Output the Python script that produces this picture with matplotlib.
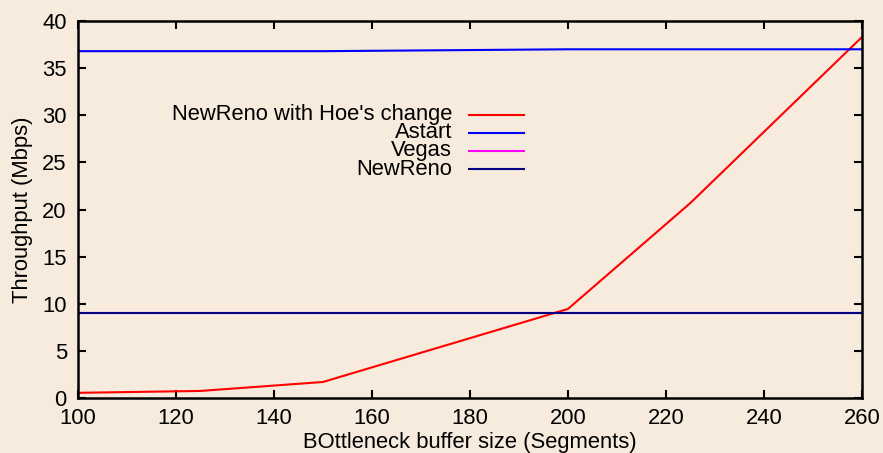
import numpy as np
import matplotlib
matplotlib.use('Agg')
import matplotlib.pyplot as plt

plt.rcParams['font.family'] = ['Liberation Sans', 'DejaVu Sans']

# buffer sizes (segments)
hoe_x = [100, 125, 150, 200, 225, 260]
hoe_y = [0.55, 0.75, 1.7, 9.45, 20.7, 38.3]

astart_x = [100, 150, 200, 260]
astart_y = [36.8, 36.8, 37.0, 37.0]

vegas_x = [100, 260]
vegas_y = [9.05, 9.05]

newreno_x = [100, 260]
newreno_y = [9.05, 9.05]

names = ["NewReno with Hoe's change", 'Astart', 'Vegas', 'NewReno']
colors = ['#ff0000', '#0000ff', '#ff00ff', '#000080']

bg = '#f7ebdd'
fs = 15.8
fig = plt.figure(figsize=(8.83, 4.53), dpi=100, facecolor=bg)
ax = fig.add_axes([0.0883, 0.1214, 0.8879, 0.8322], facecolor=bg)

series = [(hoe_x, hoe_y), (astart_x, astart_y), (vegas_x, vegas_y), (newreno_x, newreno_y)]
for (xs, ys), c in zip(series, colors):
    ax.plot(xs, ys, color=c, lw=1.5)

ax.set_xlim(100, 260)
ax.set_ylim(0, 40)
ax.set_xticks(np.arange(100, 261, 20))
ax.set_yticks(np.arange(0, 41, 5))
ax.tick_params(direction='in', length=6, width=1.5, labelsize=fs,
               top=True, right=True)
ax.tick_params(axis='x', pad=7)
ax.tick_params(axis='y', pad=8)
for s in ax.spines.values():
    s.set_linewidth(1.8)
ax.set_xlabel('BOttleneck buffer size (Segments)', fontsize=fs, labelpad=2)
ax.set_ylabel('Throughput (Mbps)', fontsize=fs, labelpad=7)

# gnuplot style key: right-aligned text, sample line to the right
key_y = [0.751, 0.704, 0.656, 0.607]
for name, c, ky in zip(names, colors, key_y):
    ax.text(0.477, ky, name, transform=ax.transAxes, ha='right', va='center',
            fontsize=fs)
    ax.plot([0.499, 0.569], [ky, ky], transform=ax.transAxes, color=c, lw=1.5)

fig.savefig('out.png', dpi=100, facecolor=bg)
